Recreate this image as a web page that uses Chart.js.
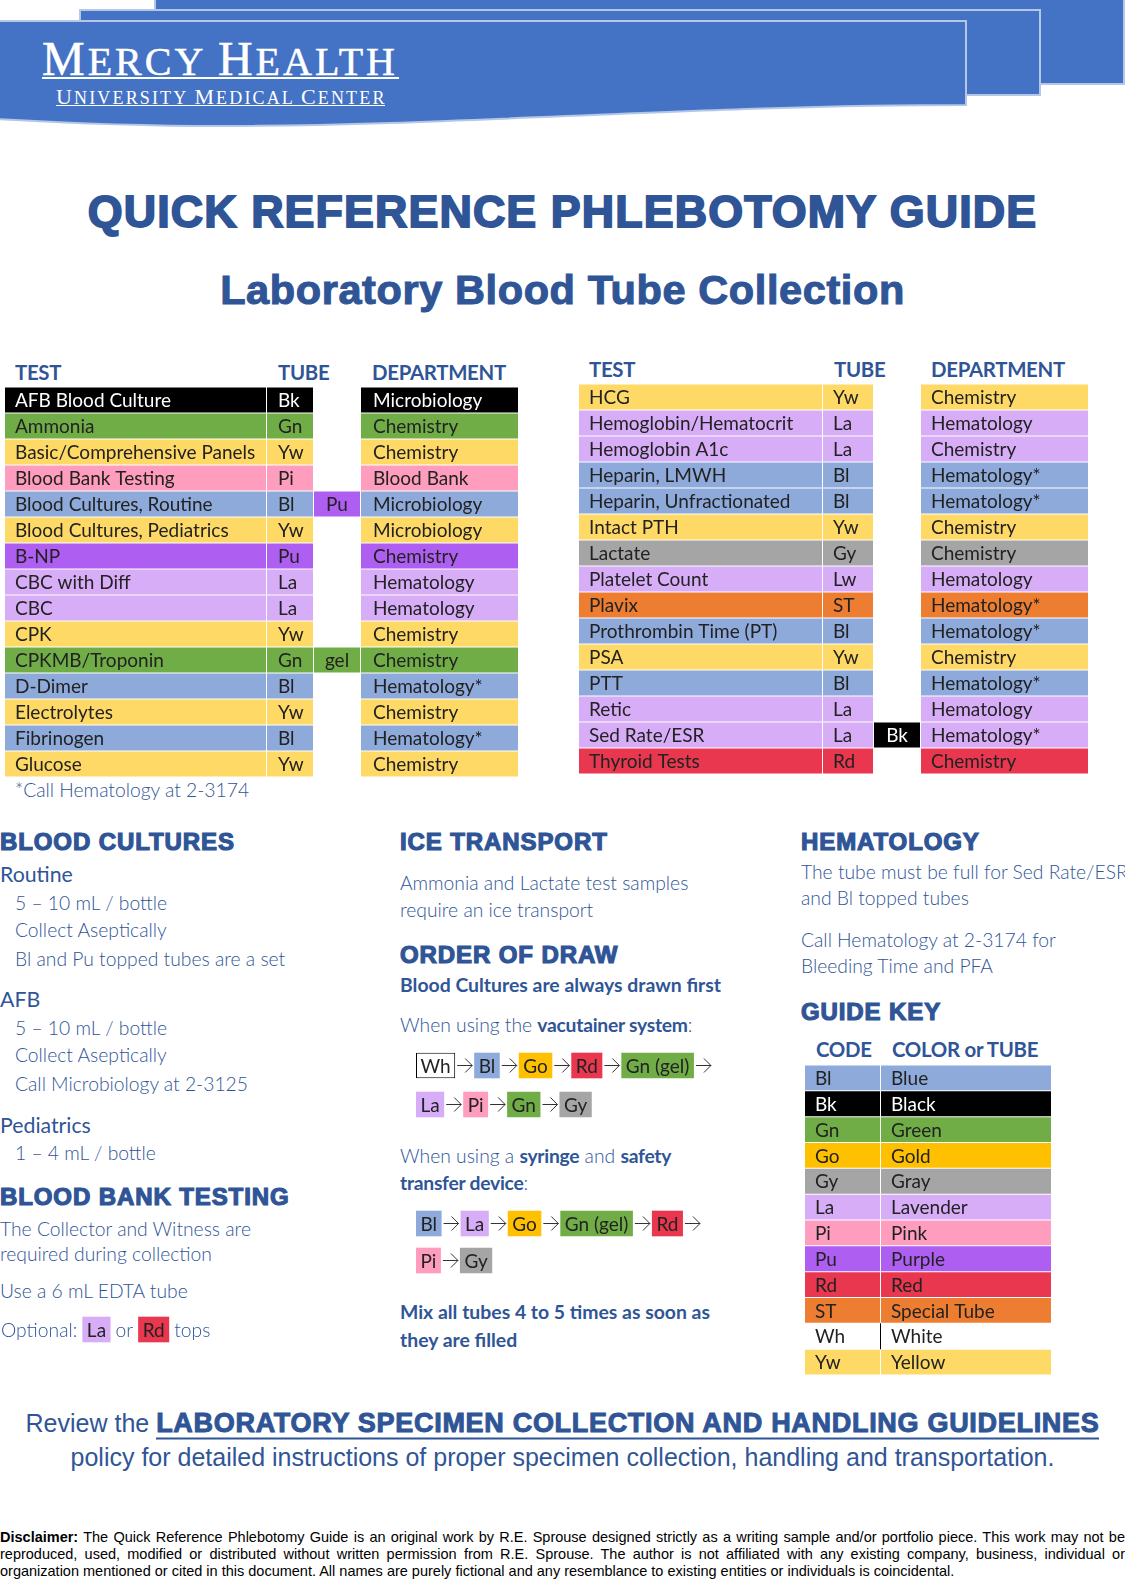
<!DOCTYPE html>
<html>
<head>
<meta charset="utf-8">
<title>Quick Reference Phlebotomy Guide</title>
<script src="https://cdn.jsdelivr.net/npm/chart.js@4/dist/chart.umd.js"></script>
<style>
    html, body { margin: 0; padding: 0; background: #fff; }
    #page { position: relative; width: 1125px; height: 1579px; overflow: hidden; }
    #page canvas { position: absolute; }
    .t {
        position: absolute; white-space: nowrap; line-height: 1; transform: translateY(-50%); margin-top: 1px;
        font-family: Lato, sans-serif; font-weight: 300; font-size: 19.3px; color: #2F5597;
    }
    .t b { font-weight: 700; letter-spacing: -0.25px; }
    .sub { font-size: 21.3px; font-weight: 400; margin-top: 2px; }
    .head { font-size: 20.4px; font-weight: 700; letter-spacing: -0.3px; margin-top: 0; }
    .boldline { font-size: 19.4px; font-weight: 700; }
    .sec {
        font-family: "Liberation Sans", sans-serif; font-weight: 700; font-size: 24px; margin-top: 0;
        letter-spacing: 0.9px; -webkit-text-stroke: 1.2px #2F5597;
    }
    .center { left: 0; width: 1125px; text-align: center; }
    .title {
        font-family: "Liberation Sans", sans-serif; font-weight: 700; font-size: 44.8px; margin-top: 0;
        letter-spacing: 1.1px; -webkit-text-stroke: 1.8px #2F5597;
    }
    .subtitle {
        font-family: "Liberation Sans", sans-serif; font-weight: 700; font-size: 41.5px; margin-top: 0;
        letter-spacing: .6px; -webkit-text-stroke: 1.1px #2F5597;
    }
    .review { font-family: "Liberation Sans", sans-serif; font-weight: 400; font-size: 25px; margin-top: 0; }
    .review b { font-size: 27px; letter-spacing: .7px; -webkit-text-stroke: 1px #2F5597; border-bottom: 2px solid #2F5597; }
    .legal {
        left: 0; width: 1125px; font-family: "Liberation Sans", sans-serif; font-weight: 400; margin-top: 0;
        font-size: 14.5px; color: #000; white-space: normal; text-align: justify; text-align-last: justify;
    }
    .legal b { letter-spacing: 0; }
    .legal.last { text-align-last: left; }
    .brand { font-family: "Liberation Serif", serif; font-weight: 400; color: #fff; margin-top: 0; }
    .brand.big { font-size: 40px; letter-spacing: 3px; -webkit-text-stroke: .5px #fff; }
    .brand.big span { font-size: 48px; }
    .brand.small { font-size: 18px; letter-spacing: 2.15px; }
    .brand.small span { font-size: 22px; }
</style>
</head>
<body>
<div id="page">
    <!-- 页眉色带 -->
    <svg width="1125" height="135" style="position:absolute;left:0;top:0">
        <g fill="#4472C4" stroke="#B4C7E7" stroke-width="2">
            <path d="M155 -4 L1124 -4 L1124 84 L155 84 Z"/>
            <path d="M80 10 L1040 10 L1040 95 L80 95 Z"/>
            <path d="M-3 21 L966 21 L966 105 C 700 105 450 126 220 126 C 120 126 50 122 -3 119 Z"/>
        </g>
    </svg>
    <div class="t brand big" style="left:42px;top:59px"><span>M</span>ERCY <span>H</span>EALTH</div>
    <div style="position:absolute;left:42px;top:77px;width:357px;height:2px;background:#fff"></div>
    <div class="t brand small" style="left:56px;top:97px"><span>U</span>NIVERSITY <span>M</span>EDICAL <span>C</span>ENTER</div>
    <div style="position:absolute;left:56px;top:105px;width:329px;height:1px;background:#fff"></div>

    <div class="t title center" style="top:211px">QUICK REFERENCE PHLEBOTOMY GUIDE</div>
    <div class="t subtitle center" style="top:290px">Laboratory Blood Tube Collection</div>

    <div class="t head" style="left:15px;top:372px">TEST</div>
    <div class="t head" style="left:278px;top:372px">TUBE</div>
    <div class="t head" style="left:372px;top:372px">DEPARTMENT</div>
    <canvas id="left-table" style="left:5px;top:387px"></canvas>
    <div class="t" style="left:15px;top:789px">*Call Hematology at 2-3174</div>

    <div class="t head" style="left:589px;top:369px">TEST</div>
    <div class="t head" style="left:834px;top:369px">TUBE</div>
    <div class="t head" style="left:931px;top:369px">DEPARTMENT</div>
    <canvas id="right-table" style="left:579px;top:384px"></canvas>

    <!-- 左栏 -->
    <div class="t sec" style="left:0;top:842px">BLOOD CULTURES</div>
    <div class="t sub" style="left:0;top:873px">Routine</div>
    <div class="t" style="left:15px;top:902px">5 – 10 mL / bottle</div>
    <div class="t" style="left:15px;top:929px">Collect Aseptically</div>
    <div class="t" style="left:15px;top:958px">Bl and Pu topped tubes are a set</div>
    <div class="t sub" style="left:0;top:998px">AFB</div>
    <div class="t" style="left:15px;top:1027px">5 – 10 mL / bottle</div>
    <div class="t" style="left:15px;top:1054px">Collect Aseptically</div>
    <div class="t" style="left:15px;top:1083px">Call Microbiology at 2-3125</div>
    <div class="t sub" style="left:0;top:1124px">Pediatrics</div>
    <div class="t" style="left:15px;top:1152px">1 – 4 mL / bottle</div>
    <div class="t sec" style="left:0;top:1197px">BLOOD BANK TESTING</div>
    <div class="t" style="left:0;top:1228px">The Collector and Witness are</div>
    <div class="t" style="left:0;top:1253px">required during collection</div>
    <div class="t" style="left:0;top:1290px">Use a 6 mL EDTA tube</div>
    <canvas id="optional-row" style="left:0;top:1316px"></canvas>

    <!-- 中栏 -->
    <div class="t sec" style="left:400px;top:842px">ICE TRANSPORT</div>
    <div class="t" style="left:400px;top:882px">Ammonia and Lactate test samples</div>
    <div class="t" style="left:400px;top:909px">require an ice transport</div>
    <div class="t sec" style="left:400px;top:955px">ORDER OF DRAW</div>
    <div class="t boldline" style="left:400px;top:984px">Blood Cultures are always drawn first</div>
    <div class="t" style="left:400px;top:1024px">When using the <b>vacutainer system</b>:</div>
    <canvas id="vacutainer-row-1" style="left:415px;top:1052px"></canvas>
    <canvas id="vacutainer-row-2" style="left:415px;top:1091px"></canvas>
    <div class="t" style="left:400px;top:1155px">When using a <b>syringe</b> and <b>safety</b></div>
    <div class="t" style="left:400px;top:1182px"><b>transfer device</b>:</div>
    <canvas id="syringe-row-1" style="left:415px;top:1210px"></canvas>
    <canvas id="syringe-row-2" style="left:415px;top:1247px"></canvas>
    <div class="t boldline" style="left:400px;top:1311px">Mix all tubes 4 to 5 times as soon as</div>
    <div class="t boldline" style="left:400px;top:1339px">they are filled</div>

    <!-- 右栏 -->
    <div class="t sec" style="left:801px;top:842px">HEMATOLOGY</div>
    <div class="t" style="left:801px;top:871px">The tube must be full for Sed Rate/ESR</div>
    <div class="t" style="left:801px;top:897px">and Bl topped tubes</div>
    <div class="t" style="left:801px;top:939px">Call Hematology at 2-3174 for</div>
    <div class="t" style="left:801px;top:965px">Bleeding Time and PFA</div>
    <div class="t sec" style="left:801px;top:1012px">GUIDE KEY</div>
    <div class="t head" style="left:816px;top:1049px">CODE</div>
    <div class="t head" style="left:892px;top:1049px">COLOR or TUBE</div>
    <canvas id="key-table" style="left:805px;top:1065px"></canvas>

    <!-- 页脚 -->
    <div class="t review center" style="top:1423px">Review the <b>LABORATORY SPECIMEN COLLECTION AND HANDLING GUIDELINES</b></div>
    <div class="t review center" style="top:1457px">policy for detailed instructions of proper specimen collection, handling and transportation.</div>
    <div class="t legal" style="top:1537px"><b>Disclaimer:</b> The Quick Reference Phlebotomy Guide is an original work by R.E. Sprouse designed strictly as a writing sample and/or portfolio piece. This work may not be</div>
    <div class="t legal" style="top:1554px">reproduced, used, modified or distributed without written permission from R.E. Sprouse. The author is not affiliated with any existing company, business, individual or</div>
    <div class="t legal last" style="top:1571px">organization mentioned or cited in this document. All names are purely fictional and any resemblance to existing entities or individuals is coincidental.</div>
</div>

<script>
// 表格数据
const leftTests = ['AFB Blood Culture', 'Ammonia', 'Basic/Comprehensive Panels', 'Blood Bank Testing', 'Blood Cultures, Routine', 'Blood Cultures, Pediatrics', 'B-NP', 'CBC with Diff', 'CBC', 'CPK', 'CPKMB/Troponin', 'D-Dimer', 'Electrolytes', 'Fibrinogen', 'Glucose'];
const leftTubes = ['Bk', 'Gn', 'Yw', 'Pi', 'Bl', 'Yw', 'Pu', 'La', 'La', 'Yw', 'Gn', 'Bl', 'Yw', 'Bl', 'Yw'];
const leftExtras = [null, null, null, null, 'Pu', null, null, null, null, null, 'gel', null, null, null, null];
const leftDepartments = ['Microbiology', 'Chemistry', 'Chemistry', 'Blood Bank', 'Microbiology', 'Microbiology', 'Chemistry', 'Hematology', 'Hematology', 'Chemistry', 'Chemistry', 'Hematology*', 'Chemistry', 'Hematology*', 'Chemistry'];

const rightTests = ['HCG', 'Hemoglobin/Hematocrit', 'Hemoglobin A1c', 'Heparin, LMWH', 'Heparin, Unfractionated', 'Intact PTH', 'Lactate', 'Platelet Count', 'Plavix', 'Prothrombin Time (PT)', 'PSA', 'PTT', 'Retic', 'Sed Rate/ESR', 'Thyroid Tests'];
const rightTubes = ['Yw', 'La', 'La', 'Bl', 'Bl', 'Yw', 'Gy', 'Lw', 'ST', 'Bl', 'Yw', 'Bl', 'La', 'La', 'Rd'];
const rightExtras = [null, null, null, null, null, null, null, null, null, null, null, null, null, 'Bk', null];
const rightDepartments = ['Chemistry', 'Hematology', 'Chemistry', 'Hematology*', 'Hematology*', 'Chemistry', 'Chemistry', 'Hematology', 'Hematology*', 'Hematology*', 'Chemistry', 'Hematology*', 'Hematology', 'Hematology*', 'Chemistry'];

const keyCodes = ['Bl', 'Bk', 'Gn', 'Go', 'Gy', 'La', 'Pi', 'Pu', 'Rd', 'ST', 'Wh', 'Yw'];
const keyNames = ['Blue', 'Black', 'Green', 'Gold', 'Gray', 'Lavender', 'Pink', 'Purple', 'Red', 'Special Tube', 'White', 'Yellow'];

const vacutainerRow1 = ['Wh', 'Bl', 'Go', 'Rd', 'Gn (gel)'];
const vacutainerRow2 = ['La', 'Pi', 'Gn', 'Gy'];
const syringeRow1 = ['Bl', 'La', 'Go', 'Gn (gel)', 'Rd'];
const syringeRow2 = ['Pi', 'Gy'];
const optionalRow = ['Optional:', 'La', 'or', 'Rd', 'tops'];

const tubeColors = {
    Bl: '#8EAADB', Bk: '#000000', Gn: '#70AD47', Go: '#FFC000', Gy: '#A5A5A5', La: '#D8ADF8', Lw: '#D8ADF8',
    Pi: '#FF9DBE', Pu: '#AE5EF0', Rd: '#E8374E', ST: '#ED7D31', Wh: '#FFFFFF', Yw: '#FFD966', gel: '#70AD47'
};

const CELL_FONT = '400 19px Lato';
const PLAIN_FONT = '300 19.3px Lato';
const INK = '#222222';
const BLUE_TEXT = '#2F5597';

function inkFor(code) {
    return code === 'Bk' ? '#FFFFFF' : INK;
}

// 把文字画到柱子上
const cellTextPlugin = {
    id: 'cellText',
    afterDatasetsDraw(chart) {
        const ctx = chart.ctx;
        ctx.save();
        ctx.textBaseline = 'middle';
        chart.data.datasets.forEach((ds, i) => {
            chart.getDatasetMeta(i).data.forEach((bar, j) => {
                const text = ds.cellText[j];
                if (!text) return;
                const left = Math.min(bar.x, bar.base);
                const right = Math.max(bar.x, bar.base);
                ctx.font = ds.cellFont || CELL_FONT;
                ctx.fillStyle = ds.cellInk[j];
                if (ds.inset === undefined) {
                    ctx.textAlign = 'center';
                    ctx.fillText(text, (left + right) / 2, bar.y + 1);
                } else {
                    ctx.textAlign = 'left';
                    ctx.fillText(text, left + ds.inset, bar.y + 1);
                }
            });
        });
        ctx.restore();
    }
};

// 流程图箭头，trailing 表示最后一个色块后面也有箭头
const arrowPlugin = {
    id: 'flowArrows',
    afterDatasetsDraw(chart, args, opts) {
        if (!opts.show) return;
        const ctx = chart.ctx;
        const bars = chart.data.datasets.map((ds, i) => chart.getDatasetMeta(i).data[0]);
        ctx.save();
        ctx.strokeStyle = '#333333';
        ctx.lineWidth = 1;
        bars.forEach((bar, i) => {
            if (i === bars.length - 1 && !opts.trailing) return;
            const from = Math.max(bar.x, bar.base) + 2;
            const to = from + opts.gap - 4;
            const y = bar.y;
            ctx.beginPath();
            ctx.moveTo(from, y);
            ctx.lineTo(to, y);
            ctx.moveTo(to - 7, y - 7);
            ctx.lineTo(to, y);
            ctx.lineTo(to - 7, y + 7);
            ctx.stroke();
        });
        ctx.restore();
    }
};

function baseOptions(maxX) {
    return {
        indexAxis: 'y',
        responsive: false,
        animation: false,
        devicePixelRatio: 1,
        layout: { padding: 0 },
        plugins: { legend: { display: false }, tooltip: { enabled: false } },
        scales: {
            x: { type: 'linear', min: 0, max: maxX, display: false },
            y: { type: 'category', display: false }
        }
    };
}

// 表格：每列一个 dataset，每格一根浮动柱
function drawTable(canvasId, width, height, edges, rowKeys, columns) {
    const canvas = document.getElementById(canvasId);
    canvas.width = width;
    canvas.height = height;
    const datasets = columns.map((col, c) => ({
        data: col.texts.map(text => (text === null ? null : [edges[c], edges[c + 1] - 1])),
        backgroundColor: col.texts.map((text, r) => tubeColors[col.byOwnText ? text : rowKeys[r]]),
        cellText: col.texts,
        cellInk: col.texts.map((text, r) => inkFor(col.byOwnText ? text : rowKeys[r])),
        inset: col.inset,
        grouped: false,
        barPercentage: 1,
        categoryPercentage: 0.96
    }));
    new Chart(canvas, {
        type: 'bar',
        data: { labels: columns[0].texts, datasets: datasets },
        options: baseOptions(width),
        plugins: [cellTextPlugin, {
            id: 'whiteDivider',
            afterDatasetsDraw(chart) {
                // 白色行没有底色，只留一条竖线
                rowKeys.forEach((key, r) => {
                    if (key !== 'Wh') return;
                    const bar = chart.getDatasetMeta(0).data[r];
                    const ctx = chart.ctx;
                    ctx.save();
                    ctx.strokeStyle = '#000000';
                    ctx.beginPath();
                    ctx.moveTo(bar.x + 0.5, bar.y - 13);
                    ctx.lineTo(bar.x + 0.5, bar.y + 13);
                    ctx.stroke();
                    ctx.restore();
                });
            }
        }]
    });
}

// 一行色块（宽度按文字量出来）
function drawChipRow(canvasId, items, gap, arrows, trailing, pad) {
    const canvas = document.getElementById(canvasId);
    const measure = document.createElement('canvas').getContext('2d');
    let cursor = 1;
    const spans = items.map(item => {
        const isTube = !!tubeColors[item.split(' ')[0]];
        measure.font = isTube ? CELL_FONT : PLAIN_FONT;
        const w = measure.measureText(item).width + (isTube ? pad * 2 : 0);
        const span = [cursor, cursor + w];
        cursor += w + gap;
        return span;
    });
    canvas.width = Math.ceil(cursor + gap);
    canvas.height = 27;
    const datasets = items.map((item, i) => {
        const code = item.split(' ')[0];
        const isTube = !!tubeColors[code];
        return {
            data: [spans[i]],
            backgroundColor: isTube ? tubeColors[code] : 'rgba(0,0,0,0)',
            borderColor: code === 'Wh' ? '#000000' : 'rgba(0,0,0,0)',
            borderWidth: code === 'Wh' ? 1 : 0,
            borderSkipped: false,
            cellText: [item],
            cellInk: [isTube ? inkFor(code) : BLUE_TEXT],
            cellFont: isTube ? CELL_FONT : PLAIN_FONT,
            grouped: false,
            barPercentage: 1,
            categoryPercentage: 0.95
        };
    });
    const options = baseOptions(canvas.width);
    options.plugins.flowArrows = { show: arrows, gap: gap, trailing: trailing };
    new Chart(canvas, {
        type: 'bar',
        data: { labels: ['row'], datasets: datasets },
        options: options,
        plugins: [cellTextPlugin, arrowPlugin]
    });
}

document.addEventListener('DOMContentLoaded', () => {
    drawTable('left-table', 513, 390, [0, 262, 309, 356, 514], leftTubes, [
        { texts: leftTests, inset: 10 },
        { texts: leftTubes, inset: 11 },
        { texts: leftExtras, byOwnText: true },
        { texts: leftDepartments, inset: 12 }
    ]);
    drawTable('right-table', 510, 390, [0, 244, 295, 342, 510], rightTubes, [
        { texts: rightTests, inset: 10 },
        { texts: rightTubes, inset: 10 },
        { texts: rightExtras, byOwnText: true },
        { texts: rightDepartments, inset: 10 }
    ]);
    drawTable('key-table', 246, 310, [0, 76, 247], keyCodes, [
        { texts: keyCodes, inset: 10 },
        { texts: keyNames, inset: 10 }
    ]);
    drawChipRow('vacutainer-row-1', vacutainerRow1, 19, true, true, 4.5);
    drawChipRow('vacutainer-row-2', vacutainerRow2, 19, true, false, 4.5);
    drawChipRow('syringe-row-1', syringeRow1, 19, true, true, 4.5);
    drawChipRow('syringe-row-2', syringeRow2, 19, true, false, 4.5);
    drawChipRow('optional-row', optionalRow, 5, false, false, 4.5);
});
</script>
</body>
</html>
